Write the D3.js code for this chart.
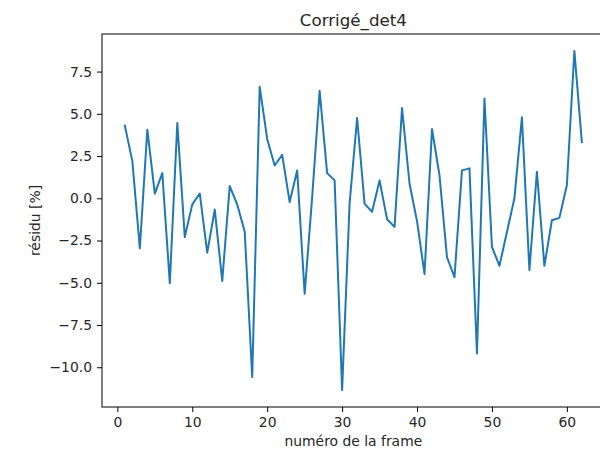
<!DOCTYPE html>
<html>
<head>
<meta charset="utf-8">
<script src="https://cdn.jsdelivr.net/npm/d3@7"></script>
<style>
  html, body { margin: 0; padding: 0; background: #ffffff; }
  svg { display: block; font-family: "DejaVu Sans", sans-serif; }
</style>
</head>
<body>
<svg id="chart" width="600" height="451"></svg>
<script>
// Residual per frame (%), frames 1..62
const frames = d3.range(1, 63);
const residus = [
  4.30, 2.20, -2.96, 4.06, 0.28, 1.49, -5.03, 4.46, -2.30, -0.36,
  0.28, -3.22, -0.67, -4.89, 0.72, -0.37, -1.98, -10.58, 6.60, 3.51,
  1.94, 2.57, -0.22, 1.65, -5.65, 0.05, 6.36, 1.49, 1.06, -11.35,
  -0.30, 4.75, -0.33, -0.80, 1.06, -1.24, -1.69, 5.34, 0.86, -1.35,
  -4.48, 4.10, 1.35, -3.49, -4.67, 1.65, 1.77, -9.19, 5.91, -2.87,
  -4.00, -2.00, 0.00, 4.79, -4.24, 1.57, -4.00, -1.30, -1.16, 0.77,
  8.72, 3.32
];
const xTicks = [0, 10, 20, 30, 40, 50, 60];
const yTicks = [-10, -7.5, -5, -2.5, 0, 2.5, 5, 7.5];
const titleText = "Corrigé_det4";
const xLabel = "numéro de la frame";
const yLabel = "résidu [%]";

const plot = { left: 102, right: 604.7, top: 34, bottom: 407 };
const svg = d3.select("#chart");

// 5% padding around the data, as in the usual plotting default
const xExt = d3.extent(frames), yExt = d3.extent(residus);
const xPad = 0.05 * (xExt[1] - xExt[0]);
const yPad = 0.05 * (yExt[1] - yExt[0]);
const x = d3.scaleLinear().domain([xExt[0] - xPad, xExt[1] + xPad]).range([plot.left, plot.right]);
const y = d3.scaleLinear().domain([yExt[0] - yPad, yExt[1] + yPad]).range([plot.bottom, plot.top]);

const minus = s => s.replace("-", "\u2212");

// axes
const xAxis = svg.append("g")
  .attr("transform", `translate(0,${plot.bottom})`)
  .call(d3.axisBottom(x).tickValues(xTicks).tickSize(5).tickPadding(5).tickFormat(d => minus(d3.format("d")(d))));
const yAxis = svg.append("g")
  .attr("transform", `translate(${plot.left},0)`)
  .call(d3.axisLeft(y).tickValues(yTicks).tickSize(5).tickPadding(5).tickFormat(d => minus(d3.format(".1f")(d))));

[xAxis, yAxis].forEach(g => {
  g.select(".domain").remove();
  g.selectAll(".tick line").attr("stroke", "#000").attr("stroke-width", 1);
  g.selectAll(".tick text").attr("fill", "#262626").style("font-size", "13.9px").style("font-family", "DejaVu Sans");
});

// data line
const clipId = "plotclip";
svg.append("clipPath").attr("id", clipId).append("rect")
  .attr("x", plot.left).attr("y", plot.top)
  .attr("width", plot.right - plot.left).attr("height", plot.bottom - plot.top);

svg.append("path")
  .datum(frames.map((f, i) => [f, residus[i]]))
  .attr("clip-path", `url(#${clipId})`)
  .attr("fill", "none")
  .attr("stroke", "#1f77b4")
  .attr("stroke-width", 2)
  .attr("stroke-linejoin", "round")
  .attr("stroke-linecap", "square")
  .attr("d", d3.line().x(d => x(d[0])).y(d => y(d[1])));

// frame
svg.append("rect")
  .attr("x", plot.left).attr("y", plot.top)
  .attr("width", plot.right - plot.left).attr("height", plot.bottom - plot.top)
  .attr("fill", "none").attr("stroke", "#000").attr("stroke-width", 1);

// texts
svg.append("text")
  .attr("x", (plot.left + plot.right) / 2).attr("y", 26)
  .attr("text-anchor", "middle").attr("fill", "#262626")
  .style("font-size", "16.7px").text(titleText);

svg.append("text")
  .attr("x", (plot.left + plot.right) / 2).attr("y", 446)
  .attr("text-anchor", "middle").attr("fill", "#262626")
  .style("font-size", "13.9px").text(xLabel);

svg.append("text")
  .attr("transform", `translate(40,${(plot.top + plot.bottom) / 2}) rotate(-90)`)
  .attr("text-anchor", "middle").attr("fill", "#262626")
  .style("font-size", "13.9px").text(yLabel);
</script>
</body>
</html>
